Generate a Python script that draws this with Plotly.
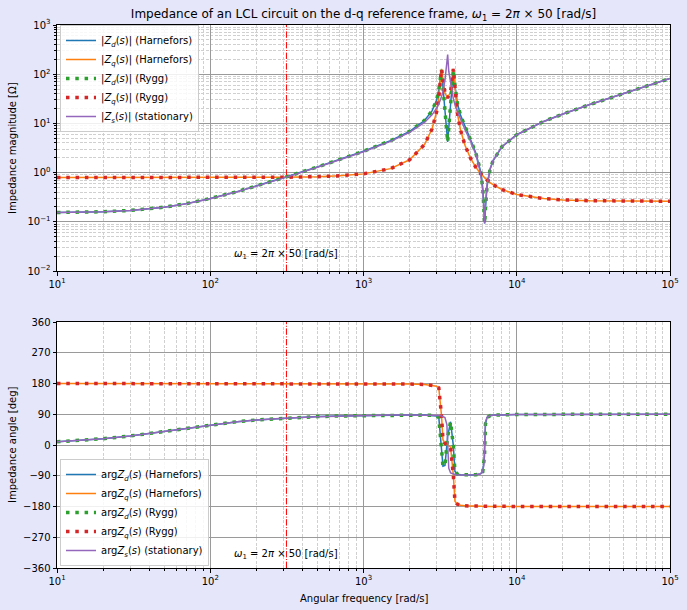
import math
import plotly.graph_objects as go

# ---------------- data ----------------
w1 = 2 * math.pi * 50  # fundamental angular frequency [rad/s]

# stationary-frame impedance Zs
w_s = [10, 15, 20, 30, 50, 70, 100, 150, 200, 300, 500, 700, 1000, 1500, 2000,
       2500, 2800, 3000, 3100, 3228, 3300, 3400, 3500, 3542, 3600, 3700, 3856,
       4000, 4300, 4600, 5000, 5400, 5800, 6000, 6100, 6160, 6250, 6400, 6700,
       7000, 8000, 10000, 15000, 20000, 30000, 50000, 70000, 100000]
mag_s = [0.154, 0.157, 0.160, 0.170, 0.197, 0.232, 0.294, 0.407, 0.526, 0.772,
         1.28, 1.81, 2.66, 4.32, 6.60, 10.45, 14.9, 20.4, 24.9, 34.6, 44.6, 74.6,
         150, 250, 115, 64.4, 31.7, 21.1, 11.7, 7.44, 4.32, 2.37, 0.986, 0.423,
         0.176, 0.093, 0.237, 0.571, 1.20, 1.76, 3.36, 5.89, 10.96, 15.51, 24.19,
         41.08, 57.8, 82.0]
ang_s = [9.4, 13.9, 18.3, 26.3, 39.5, 49.1, 58.8, 68.0, 73.1, 78.6, 83.0, 85.0,
         86.4, 87.5, 87.9, 87.9, 87.5, 87.0, 86.5, 85.3, 84.0, 80.2, 60.0, -0.4,
         -67.9, -81.5, -85.7, -87.0, -87.9, -88.1, -88.0, -87.2, -84.2, -77.0,
         -58.2, 0.7, 67.7, 81.2, 86.0, 87.4, 88.7, 89.3, 89.6, 89.7, 89.8, 89.9,
         89.9, 89.9]

# d-q frame impedances (Harnefors)
w_dq = [10, 15, 20, 30, 50, 70, 100, 150, 200, 300, 500, 700, 1000, 1500, 2000,
        2500, 2800, 3000, 3100, 3228, 3300, 3400, 3542, 3700, 3856, 3950, 4100,
        4300, 4600, 5000, 5400, 5800, 6000, 6160, 6185, 6250, 6400, 6700, 7000,
        8000, 10000, 15000, 20000, 30000, 50000, 70000, 100000]
mag_d = [0.155, 0.157, 0.160, 0.170, 0.198, 0.234, 0.298, 0.41, 0.531, 0.784,
         1.30, 1.84, 2.71, 4.44, 6.89, 11.46, 17.98, 30.0, 48.4, 122, 59.4, 17.9,
         4.2, 24.2, 122, 59.7, 25.5, 14.55, 8.40, 4.67, 2.54, 1.08, 0.494, 0.110,
         0.093, 0.189, 0.526, 1.164, 1.738, 3.351, 5.886, 10.96, 15.51, 24.19,
         41.08, 57.8, 82.0]
ang_d = [9.4, 13.9, 18.3, 26.4, 39.6, 49.3, 59.0, 68.2, 73.3, 78.6, 83.1, 85.0,
         86.4, 87.5, 87.8, 87.6, 86.8, 84.6, 80.4, 1.5, -62.0, -60.0, 25.0, 68.0,
         -1.9, -77.1, -85.2, -87.2, -87.9, -87.9, -87.2, -84.5, -78.7, -32.4, 0.0,
         61.2, 80.3, 85.8, 87.3, 88.7, 89.2, 89.6, 89.7, 89.8, 89.9, 89.9, 89.9]
mag_q = [0.793, 0.793, 0.793, 0.793, 0.793, 0.7935, 0.794, 0.796, 0.798, 0.805,
         0.826, 0.861, 0.942, 1.205, 1.82, 3.71, 7.69, 17.2, 34.0, 128, 77.9,
         41.4, 33.0, 44.0, 128, 47.6, 15.8, 7.26, 3.55, 1.94, 1.29, 0.961, 0.854,
         0.786, 0.777, 0.753, 0.705, 0.628, 0.570, 0.453, 0.3585, 0.296, 0.279,
         0.2685, 0.2634, 0.2621, 0.2614]
ang_q = [180.0, 180.0, 180.0, 180.0, 179.98, 179.97, 179.94, 179.9, 179.85, 179.8,
         179.7, 179.6, 179.4, 178.9, 178.3, 177.1, 175.4, 172.2, 167.4, 87.0,
         15.5, 4.5, -0.4, -6.2, -88.0, -164.4, -173.4, -176.2, -177.8, -178.7,
         -179.1, -179.4, -179.5, -179.6, -179.6, -179.6, -179.6, -179.7, -179.7,
         -179.8, -179.9, -179.9, -179.9, -179.9, -180.0, -180.0, -180.0]

# Rygg's model coincides with Harnefors' on this plot
mag_d_rygg = list(mag_d)
ang_d_rygg = list(ang_d)
mag_q_rygg = list(mag_q)
ang_q_rygg = list(ang_q)

# axes ticks
x_decades = [10, 100, 1000, 10000, 100000]
x_ticktext = ["10<sup>1</sup>", "10<sup>2</sup>", "10<sup>3</sup>",
              "10<sup>4</sup>", "10<sup>5</sup>"]
y_decades = [0.01, 0.1, 1, 10, 100, 1000]
y_ticktext = ["10<sup>\u22122</sup>", "10<sup>\u22121</sup>", "10<sup>0</sup>",
              "10<sup>1</sup>", "10<sup>2</sup>", "10<sup>3</sup>"]
ang_ticks = [-360, -270, -180, -90, 0, 90, 180, 270, 360]
ang_ticktext = ["\u2212360", "\u2212270", "\u2212180", "\u221290", "0",
                "90", "180", "270", "360"]
mag_range = [0.01, 1000]
ang_range = [-360, 360]

# ---------------- styling ----------------
C_BLUE, C_ORANGE, C_GREEN, C_RED, C_PURPLE = (
    "#1f77b4", "#ff7f0e", "#2ca02c", "#d62728", "#9467bd")
FONT = "DejaVu Sans"
DOT = "3.5px,5.8px"
DASHDOT = "6.4px,1.6px,1px,1.6px"
MAJOR_GRID = "#9a9a9a"
MINOR_GRID = "#d0d0d0"
MINOR_DASH = "3px,1.5px"
BG = "#e6e6fa"

x_minor = [m * d for d in x_decades[:-1] for m in range(2, 10)]
y_minor = [m * d for d in y_decades[:-1] for m in range(2, 10)]

def zlabel(sub, prefix, suffix):
    return f"{prefix}<i>Z<sub>{sub}</sub></i>(<i>s</i>){suffix}"

fig = go.Figure()

series = [
    ("d", mag_d, ang_d, w_dq, C_BLUE, "solid", 1.5, "(Harnefors)"),
    ("q", mag_q, ang_q, w_dq, C_ORANGE, "solid", 1.5, "(Harnefors)"),
    ("d", mag_d_rygg, ang_d_rygg, w_dq, C_GREEN, DOT, 3.5, "(Rygg)"),
    ("q", mag_q_rygg, ang_q_rygg, w_dq, C_RED, DOT, 3.5, "(Rygg)"),
    ("s", mag_s, ang_s, w_s, C_PURPLE, "solid", 1.5, "(stationary)"),
]

# vertical omega_1 markers
fig.add_trace(go.Scatter(x=[w1, w1], y=mag_range, mode="lines",
                         line=dict(color="red", width=1, dash=DASHDOT),
                         showlegend=False, xaxis="x", yaxis="y", hoverinfo="skip"))
fig.add_trace(go.Scatter(x=[w1, w1], y=ang_range, mode="lines",
                         line=dict(color="red", width=1, dash=DASHDOT),
                         showlegend=False, xaxis="x2", yaxis="y2", hoverinfo="skip"))

for sub, mag, ang, w, col, dash, lw, tag in series:
    fig.add_trace(go.Scatter(
        x=w, y=mag, mode="lines", line=dict(color=col, width=lw, dash=dash),
        name="|" + zlabel(sub, "", "") + "| " + tag,
        xaxis="x", yaxis="y", legend="legend"))
for sub, mag, ang, w, col, dash, lw, tag in series:
    fig.add_trace(go.Scatter(
        x=w, y=ang, mode="lines", line=dict(color=col, width=lw, dash=dash),
        name=zlabel(sub, "arg", "") + " " + tag,
        xaxis="x2", yaxis="y2", legend="legend2"))

W, H = 687, 610
ML, MR, MT, MB = 57, 17, 25, 42
PW, PH = W - ML - MR, H - MT - MB
top_dom = [(PH - 246) / PH, 1.0]
bot_dom = [0.0, 246 / PH]

minor_style = dict(tickmode="array", ticks="outside", ticklen=2,
                   tickcolor="black", showgrid=True, gridcolor=MINOR_GRID,
                   griddash=MINOR_DASH, gridwidth=1)

common_x = dict(type="log", range=[1, 5], tickmode="array", tickvals=x_decades,
                ticktext=x_ticktext, ticks="outside", ticklen=3.5, tickwidth=1,
                tickcolor="black", showline=True, linecolor="black", linewidth=1,
                mirror=True, showgrid=True, gridcolor=MAJOR_GRID, gridwidth=1,
                zeroline=False, automargin=False,
                tickfont=dict(family=FONT, size=10, color="black"),
                minor=dict(minor_style, tickvals=x_minor))

legend_common = dict(bgcolor="rgba(255,255,255,0.85)", bordercolor="#cccccc",
                     borderwidth=1, font=dict(family=FONT, size=10, color="black"),
                     itemwidth=30, tracegroupgap=0, xanchor="left", yanchor="top",
                     xref="paper", yref="paper")

fig.update_layout(
    width=W, height=H,
    paper_bgcolor=BG, plot_bgcolor="white",
    margin=dict(l=ML, r=MR, t=MT, b=MB),
    font=dict(family=FONT, size=10, color="black"),
    title=dict(text="Impedance of an LCL circuit on the d-q reference frame, "
                    "<i>ω</i><sub>1</sub> = 2<i>π</i> × 50 [rad/s]",
               x=0.5, xref="paper", xanchor="center",
               y=1 - 14 / H, yref="container", yanchor="middle",
               font=dict(family=FONT, size=12, color="black")),
    xaxis=dict(common_x, anchor="y", domain=[0, 1]),
    xaxis2=dict(common_x, anchor="y2", domain=[0, 1]),
    yaxis=dict(type="log", range=[-2, 3], domain=top_dom, anchor="x",
               tickmode="array", tickvals=y_decades, ticktext=y_ticktext,
               ticks="outside", ticklen=3.5, tickcolor="black", showline=True,
               linecolor="black", linewidth=1, mirror=True, showgrid=True,
               gridcolor=MAJOR_GRID, zeroline=False, automargin=False,
               tickfont=dict(family=FONT, size=10, color="black"),
               minor=dict(minor_style, tickvals=y_minor)),
    yaxis2=dict(range=ang_range, domain=bot_dom, anchor="x2",
                tickmode="array", tickvals=ang_ticks, ticktext=ang_ticktext,
                ticks="outside", ticklen=3.5, tickcolor="black", showline=True,
                linecolor="black", linewidth=1, mirror=True, showgrid=True,
                gridcolor=MAJOR_GRID, zeroline=False, automargin=False,
                tickfont=dict(family=FONT, size=10, color="black")),
    legend=dict(legend_common, x=(60 - ML) / PW, y=1 - (25 - MT) / PH),
    legend2=dict(legend_common, x=(60 - ML) / PW, y=1 - (459 - MT) / PH),
    showlegend=True,
)

omega_txt = "<i>ω</i><sub>1</sub> = 2<i>π</i> × 50 [rad/s]"
txt_font = dict(family=FONT, size=10, color="black")
fig.add_annotation(x=math.log10(w1), y=math.log10(0.022), xref="x", yref="y",
                   text=omega_txt, showarrow=False, xanchor="center",
                   yanchor="middle", font=txt_font)
fig.add_annotation(x=math.log10(w1), y=-320, xref="x2", yref="y2",
                   text=omega_txt, showarrow=False, xanchor="center",
                   yanchor="middle", font=txt_font)
fig.add_annotation(x=(12 - ML) / PW, y=sum(top_dom) / 2, xref="paper", yref="paper",
                   text="Impedance magnitude [Ω]", textangle=-90, showarrow=False,
                   xanchor="center", yanchor="middle", font=txt_font)
fig.add_annotation(x=(12 - ML) / PW, y=sum(bot_dom) / 2, xref="paper", yref="paper",
                   text="Impedance angle [deg]", textangle=-90, showarrow=False,
                   xanchor="center", yanchor="middle", font=txt_font)
fig.add_annotation(x=0.5, y=-(598 - (MT + PH)) / PH, xref="paper", yref="paper",
                   text="Angular frequency [rad/s]", showarrow=False,
                   xanchor="center", yanchor="middle", font=txt_font)

page_fix = ("document.body.style.margin='0';"
            "document.body.style.padding='0';"
            "document.body.style.overflow='hidden';"
            "document.body.style.background='" + BG + "';")
fig.write_html("out.html", post_script=page_fix,
               config={"displayModeBar": False})
